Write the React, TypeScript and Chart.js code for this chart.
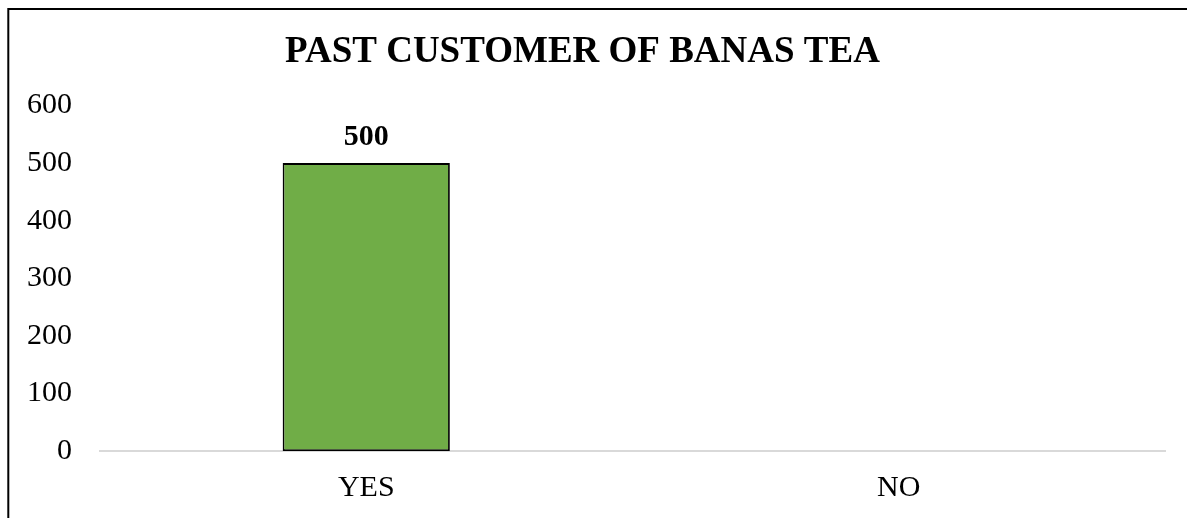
import React, { useEffect, useRef } from "react";
import { Chart, registerables } from "chart.js";

Chart.register(...registerables);

const chartTitle = "PAST CUSTOMER OF BANAS TEA";
const categories = ["YES", "NO"];
const values = [500, 0];
const yMin = 0;
const yMax = 600;
const yStep = 100;

const FONT = '"Liberation Serif", "Times New Roman", serif';

const framePlugin = {
  id: "frame",
  afterDraw(chart: any) {
    const ctx = chart.ctx;
    ctx.save();
    ctx.strokeStyle = "#000000";
    ctx.lineWidth = 2;
    ctx.beginPath();
    ctx.moveTo(8.3, chart.height);
    ctx.lineTo(8.3, 9);
    ctx.lineTo(chart.width, 9);
    ctx.stroke();
    ctx.restore();
  },
};

const valueLabelPlugin = {
  id: "valueLabels",
  afterDatasetsDraw(chart: any) {
    const ctx = chart.ctx;
    const meta = chart.getDatasetMeta(0);
    const data = chart.data.datasets[0].data as number[];
    ctx.save();
    ctx.font = `bold 30px ${FONT}`;
    ctx.fillStyle = "#000000";
    ctx.textAlign = "center";
    ctx.textBaseline = "alphabetic";
    meta.data.forEach((bar: any, i: number) => {
      if (!data[i]) return;
      ctx.fillText(String(data[i]), bar.x, bar.y - 18);
    });
    ctx.restore();
  },
};

export default function App() {
  const canvasRef = useRef<HTMLCanvasElement | null>(null);

  useEffect(() => {
    if (!canvasRef.current) return;
    const chart = new Chart(canvasRef.current, {
      type: "bar",
      data: {
        labels: categories,
        datasets: [
          {
            data: values,
            backgroundColor: "#70ad47",
            borderColor: "#000000",
            borderWidth: values.map((v) => (v === 0 ? 0 : 1.8)),
            borderSkipped: false,
            barPercentage: 0.314,
            categoryPercentage: 1,
          },
        ],
      },
      options: {
        animation: false,
        responsive: false,
        devicePixelRatio: 1,
        layout: { padding: { left: 0, right: 22, top: 0, bottom: 0 } },
        plugins: {
          legend: { display: false },
          tooltip: { enabled: false },
          title: {
            display: true,
            text: chartTitle,
            color: "#000000",
            font: { family: FONT, size: 37, weight: "bold", lineHeight: 1.2 },
            padding: { top: 30, bottom: 31.1 },
          },
        },
        scales: {
          x: {
            grid: { display: false, drawTicks: false },
            border: { display: true, color: "#d9d9d9", width: 2 },
            ticks: {
              color: "#000000",
              font: { family: FONT, size: 30 },
              padding: 19,
            },
            afterFit(scale: any) {
              scale.height = 67;
            },
          },
          y: {
            min: yMin,
            max: yMax,
            grid: { display: false, drawTicks: false },
            border: { display: false },
            ticks: {
              stepSize: yStep,
              color: "#000000",
              font: { family: FONT, size: 30 },
              padding: 28,
            },
            afterFit(scale: any) {
              scale.width = 100;
            },
          },
        },
      },
      plugins: [framePlugin, valueLabelPlugin],
    });
    return () => chart.destroy();
  }, []);

  return (
    <div style={{ position: "fixed", left: 0, top: 0, width: 1187, height: 518, background: "#ffffff" }}>
      <canvas ref={canvasRef} width={1187} height={518} style={{ display: "block" }} />
    </div>
  );
}
